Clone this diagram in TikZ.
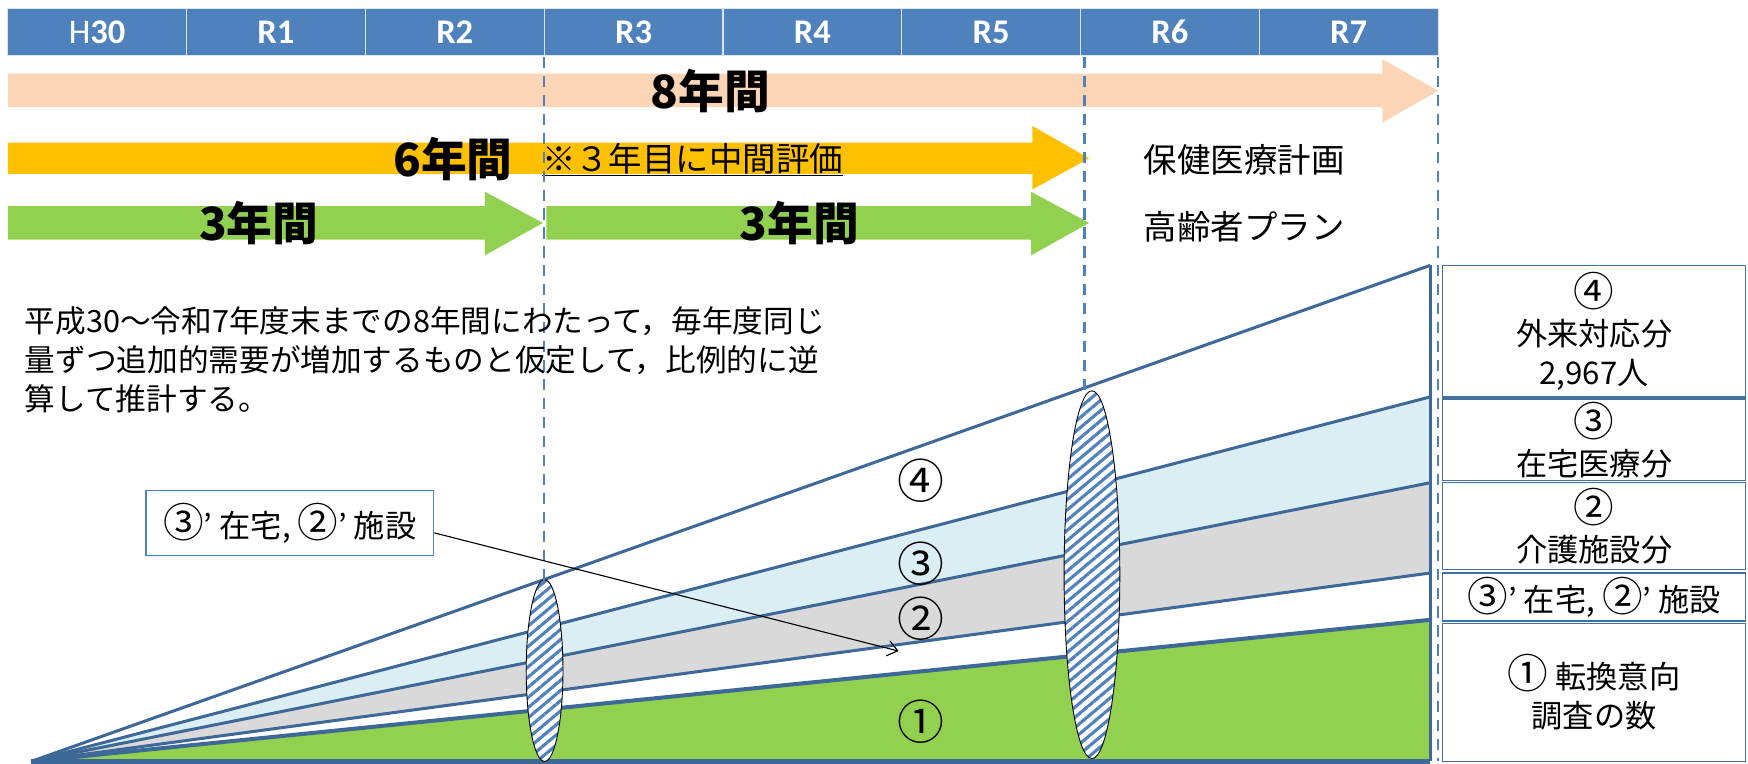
\documentclass[tikz,border=0pt]{standalone}
\usepackage{fontspec}
\usepackage{graphicx}
\setmainfont{Noto Sans CJK JP}
\newfontfamily\hdrfont{Carlito}
\usetikzlibrary{arrows.meta,patterns.meta,calc}
\definecolor{hdrblue}{HTML}{4F81BD}
\definecolor{peach}{HTML}{FBD5B5}
\definecolor{amber}{HTML}{FFC000}
\definecolor{lgreen}{HTML}{92D050}
\definecolor{fanblue}{HTML}{3D6898}
\definecolor{lblue}{HTML}{DAEEF3}
\definecolor{lgray}{HTML}{D9D9D9}
\definecolor{boxline}{HTML}{41719C}
\newcommand{\cnum}[1]{\scalebox{1.3}{#1}}
\tikzset{
  hdrcell/.style={fill=hdrblue, draw=white!80!hdrblue, line width=1pt, minimum width=160.375pt, minimum height=42pt, inner sep=0pt, text=white, font=\hdrfont\bfseries\fontsize{31}{31}\selectfont},
  bandlabel/.style={font=\bfseries\fontsize{41}{41}\selectfont, inner sep=0pt},
  plaintext/.style={font=\fontsize{30}{30}\selectfont, inner sep=0pt},
  dashline/.style={hdrblue, line width=2.4pt, dash pattern=on 10pt off 7pt},
  fanline/.style={fanblue, line width=2.7pt},
  hatch/.style={draw=black, line width=0.8pt, preaction={fill=white}, pattern={Lines[angle=40,distance=7pt,line width=2.8pt]}, pattern color=hdrblue},
  rbox/.style={draw=boxline, line width=1.2pt, minimum width=272pt, inner sep=0pt, align=center, font=\fontsize{28}{35}\selectfont},
  circnum/.style={font=\fontsize{42}{42}\selectfont, inner sep=0pt},
}
\begin{document}
\begin{tikzpicture}[x=1pt,y=-1pt]
\useasboundingbox (0,0) rectangle (1568,685);
% header
\foreach \lab [count=\i from 0] in {{\mdseries H}30,R1,R2,R3,R4,R5,R6,R7}
  \node[hdrcell] (hd\i) at ({7+160.375*(\i+0.5)},29) {\lab};
% timeline arrows
\fill[peach] (7,66) -- (1240,66) -- (1240,53) -- (1290,81.5) -- (1240,110) -- (1240,96) -- (7,96) -- cycle;
\fill[amber] (7,128) -- (926,128) -- (926,113) -- (977,142) -- (926,170) -- (926,156) -- (7,156) -- cycle;
\fill[lgreen] (7,185) -- (435,185) -- (435,172) -- (487,200) -- (435,229) -- (435,215) -- (7,215) -- cycle;
\fill[lgreen] (490,185) -- (925,185) -- (925,172) -- (977,200) -- (925,229) -- (925,215) -- (490,215) -- cycle;
\node[bandlabel] (l8) at (637,82) {8年間};
\node[bandlabel, anchor=east] (l6) at (460,143) {6年間};
\node[plaintext, anchor=west] (note) at (486,143) {\underline{※３年目に中間評価}};
\node[bandlabel] (g1) at (232,200) {3年間};
\node[bandlabel] (g2) at (717,200) {3年間};
\node[plaintext] (plan1) at (1116,143) {保健医療計画};
\node[plaintext] (plan2) at (1116,203) {高齢者プラン};
% fan
\coordinate (O) at (28,683);
\coordinate (r0) at (1283,238);
\coordinate (r1) at (1283,356);
\coordinate (r2) at (1283,433);
\coordinate (r3) at (1283,514);
\coordinate (r4) at (1283,556);
\coordinate (r5) at (1283,683);
\fill[lblue] (O) -- (r1) -- (r2) -- cycle;
\fill[lgray] (O) -- (r2) -- (r3) -- cycle;
\fill[lgreen] (O) -- (r4) -- (r5) -- cycle;
\draw[fanline] (O) -- (r0);
\draw[fanline] (O) -- (r1);
\draw[fanline] (O) -- (r2);
\draw[fanline] (O) -- (r3);
\draw[fanline, line width=3.6pt] (O) -- (r4);
\draw[fanline, line width=4pt] (O) -- (r5);
\draw[fanline, line width=3.2pt] (r0) -- (r5);
\node[circnum] (c4) at (826,431) {④};
\node[circnum] (c3) at (826,506) {③};
\node[circnum] (c2) at (826,555) {②};
\node[circnum] (c1) at (826,647) {①};
% hatched ellipses
\path[hatch] (488.5,601.5) ellipse [x radius=16.5pt, y radius=81.5pt];
\path[hatch] (979.5,515.5) ellipse [x radius=25pt, y radius=165pt];
% dashed guides
\draw[dashline] (488,51) -- (488,520);
\draw[dashline] (973,51) -- (973,350);
\draw[dashline] (1290,51) -- (1290,683);
% right boxes
\node[rbox, minimum height=118pt] (b4) at (1430,297) {\cnum{④}\\外来対応分\\2,967人};
\node[rbox, minimum height=73pt] (b3) at (1430,394.5) {\cnum{③}\\在宅医療分};
\node[rbox, minimum height=78pt] (b2) at (1430,472) {\cnum{②}\\介護施設分};
\node[rbox, minimum height=43pt] (b32) at (1430,535.5) {\cnum{③}’ 在宅, \cnum{②}’ 施設};
\node[rbox, minimum height=124pt] (b1) at (1430,621) {\cnum{①} 転換意向\\調査の数};
% callout
\node[draw=hdrblue, line width=1.2pt, minimum width=258pt, minimum height=58pt, inner sep=0pt, font=\fontsize{28}{28}\selectfont] (call) at (260,469) {\cnum{③}’ 在宅, \cnum{②}’ 施設};
\coordinate (tip) at (806,584);
\draw[-{Straight Barb[length=9pt,width=14pt]}, line width=1pt] ($(call.east)+(0,9)$) -- (tip);
% paragraph
\node[anchor=north west, align=left, inner sep=0pt, font=\fontsize{27.5}{35}\selectfont] (para) at (22,275) {平成30～令和7年度末までの8年間にわたって，毎年度同じ\\量ずつ追加的需要が増加するものと仮定して，比例的に逆\\算して推計する。};
\end{tikzpicture}
\end{document}
